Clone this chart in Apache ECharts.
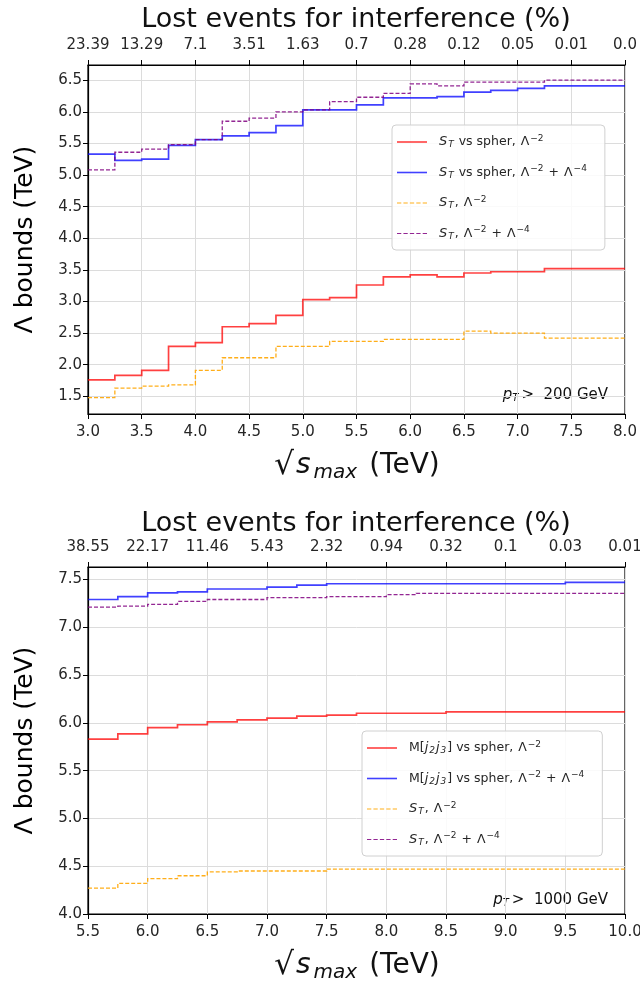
<!DOCTYPE html>
<html><head><meta charset="utf-8">
<script src="https://cdn.jsdelivr.net/npm/echarts@6/dist/echarts.min.js"></script>
<style>html,body{margin:0;padding:0;background:#fff}#c{width:640px;height:981px}</style>
</head><body><div id="c"></div>
<script>
// ---------- Data: top panel (pT > 200 GeV) ----------
var edges1 = [3.0,3.25,3.5,3.75,4.0,4.25,4.5,4.75,5.0,5.25,5.5,5.75,6.0,6.25,6.5,6.75,7.0,7.25,7.5,7.75,8.0];
var red1    = [1.76,1.83,1.91,2.29,2.35,2.60,2.65,2.78,3.03,3.06,3.26,3.39,3.42,3.39,3.45,3.47,3.47,3.52,3.52,3.52];
var blue1   = [5.33,5.23,5.25,5.47,5.56,5.62,5.67,5.78,6.03,6.03,6.11,6.22,6.22,6.24,6.31,6.34,6.37,6.41,6.41,6.41];
var orange1 = [1.48,1.63,1.66,1.68,1.91,2.11,2.11,2.29,2.29,2.37,2.37,2.40,2.40,2.40,2.53,2.50,2.50,2.42,2.42,2.42];
var purple1 = [5.08,5.36,5.41,5.48,5.56,5.85,5.90,6.00,6.03,6.16,6.23,6.29,6.44,6.41,6.47,6.47,6.47,6.50,6.50,6.50];
var xTicks1 = [3.0,3.5,4.0,4.5,5.0,5.5,6.0,6.5,7.0,7.5,8.0];
var topLabels1 = ['23.39','13.29','7.1','3.51','1.63','0.7','0.28','0.12','0.05','0.01','0.0'];
var yTicks1 = [1.5,2.0,2.5,3.0,3.5,4.0,4.5,5.0,5.5,6.0,6.5];

// ---------- Data: bottom panel (pT > 1000 GeV) ----------
var edges2 = [5.5,5.75,6.0,6.25,6.5,6.75,7.0,7.25,7.5,7.75,8.0,8.25,8.5,8.75,9.0,9.25,9.5,9.75,10.0];
var red2    = [5.83,5.885,5.95,5.98,6.01,6.03,6.05,6.07,6.08,6.10,6.10,6.10,6.115,6.115,6.115,6.115,6.115,6.115];
var blue2   = [7.29,7.32,7.36,7.37,7.40,7.40,7.42,7.44,7.455,7.455,7.455,7.455,7.455,7.455,7.455,7.455,7.47,7.47];
var orange2 = [4.27,4.32,4.37,4.40,4.44,4.45,4.45,4.45,4.47,4.47,4.47,4.47,4.47,4.47,4.47,4.47,4.47,4.47];
var purple2 = [7.21,7.22,7.24,7.27,7.29,7.29,7.31,7.31,7.32,7.32,7.34,7.355,7.355,7.355,7.355,7.355,7.355,7.355];
var xTicks2 = [5.5,6.0,6.5,7.0,7.5,8.0,8.5,9.0,9.5,10.0];
var topLabels2 = ['38.55','22.17','11.46','5.43','2.32','0.94','0.32','0.1','0.03','0.01'];
var yTicks2 = [4.0,4.5,5.0,5.5,6.0,6.5,7.0,7.5];

var legendText = {
  r1: '{i|S}{sub|T} vs spher, {m|Λ}{sup|−2}',
  b1: '{i|S}{sub|T} vs spher, {m|Λ}{sup|−2}{pl|+}{m|Λ}{sup|−4}',
  o1: '{i|S}{sub|T}, {m|Λ}{sup|−2}',
  p1: '{i|S}{sub|T}, {m|Λ}{sup|−2}{pl|+}{m|Λ}{sup|−4}',
  r2: 'M[{i|j}{sub|2}{i|j}{sub|3}] vs spher, {m|Λ}{sup|−2}',
  b2: 'M[{i|j}{sub|2}{i|j}{sub|3}] vs spher, {m|Λ}{sup|−2}{pl|+}{m|Λ}{sup|−4}',
  o2: '{i|S}{sub|T}, {m|Λ}{sup|−2}',
  p2: '{i|S}{sub|T}, {m|Λ}{sup|−2}{pl|+}{m|Λ}{sup|−4}'
};

// histogram-style steps: each bin value held from its left edge to its right edge
function stepData(edges, vals) {
  var d = [];
  for (var i = 0; i < vals.length; i++) {
    d.push([edges[i], vals[i]]);
    d.push([edges[i + 1], vals[i]]);
  }
  return d;
}

var FONT = 'DejaVu Sans';
var txtCol = '#262626';
var gridCol = '#dcdcdc';
var DASH_ICON = 'path://M0,0h4v1h-4zM6,0h4v1h-4zM12,0h4v1h-4zM18,0h4v1h-4zM24,0h4v1h-4z';

var rich = {
  i: {fontStyle: 'italic', fontSize: 13, fontFamily: FONT, color: txtCol, padding: [0, 1, 0, 0]},
  m: {fontSize: 12.5, fontFamily: FONT, color: txtCol, padding: [0, 1, 0, 1]},
  sub: {fontStyle: 'italic', fontSize: 9, fontFamily: FONT, color: txtCol, padding: [6, 1, 0, 0]},
  sup: {fontSize: 9, fontFamily: FONT, color: txtCol, padding: [0, 1, 7, 0]},
  pl: {fontSize: 12.5, fontFamily: FONT, color: txtCol, padding: [0, 4, 0, 4]}
};

function mkX(grid, min, max) {
  return {
    type: 'value', gridIndex: grid, min: min, max: max, interval: 0.5, position: 'bottom',
    axisLine: {show: true, onZero: false, lineStyle: {color: '#000', width: 1.2}},
    axisTick: {show: true, length: 5, lineStyle: {color: '#000'}},
    axisLabel: {color: txtCol, fontSize: 15, fontFamily: FONT, margin: 11,
      formatter: function (v) { return v.toFixed(1); }},
    splitLine: {show: true, lineStyle: {color: gridCol, width: 1}}
  };
}
function mkTop(grid, min, max, ticks, labels) {
  return {
    type: 'value', gridIndex: grid, min: min, max: max, interval: 0.5, position: 'top',
    axisLine: {show: true, onZero: false, lineStyle: {color: '#000', width: 1.2}},
    axisTick: {show: true, length: 5, lineStyle: {color: '#000'}},
    axisLabel: {color: txtCol, fontSize: 15, fontFamily: FONT, margin: 12,
      formatter: function (v) { var k = ticks.indexOf(Math.round(v * 100) / 100); return k >= 0 ? labels[k] : ''; }},
    splitLine: {show: false}
  };
}
function mkY(grid, min, max, ticks) {
  return {
    type: 'value', gridIndex: grid, min: min, max: max,
    axisLine: {show: true, onZero: false, lineStyle: {color: '#000', width: 1.2}},
    axisTick: {show: true, length: 5, lineStyle: {color: '#000'}, customValues: ticks},
    axisLabel: {color: txtCol, fontSize: 15, fontFamily: FONT, margin: 6, customValues: ticks,
      formatter: function (v) { return v.toFixed(1); }},
    splitLine: {show: true, lineStyle: {color: gridCol, width: 1}},
    name: 'Λ bounds (TeV)', nameLocation: 'middle', nameGap: 50, nameRotate: 90,
    nameTextStyle: {fontSize: 25, fontFamily: FONT, color: '#000'}
  };
}
// step curve drawn as one polyline through the axes' own coordinate mapping
function mkSeries(id, xi, yi, edges, vals, color, dashed, width, opacity) {
  var pts = stepData(edges, vals);
  return {
    name: id, type: 'custom', xAxisIndex: xi, yAxisIndex: yi, silent: true, clip: true,
    data: pts, encode: {x: 0, y: 1},
    itemStyle: {color: color, opacity: opacity},
    renderItem: function (params, api) {
      if (params.dataIndex !== 0) return null;
      var p = pts.map(function (d) { return api.coord(d); });
      return {
        type: 'polyline', silent: true,
        shape: {points: p},
        style: {stroke: color, lineWidth: width, fill: null, opacity: opacity,
          lineDash: dashed ? [4, 2] : null, lineJoin: 'miter', lineCap: 'butt'}
      };
    }
  };
}
function mkLegend(items, left, top) {
  return {
    data: items.map(function (it) { return {name: it[0], icon: it[1] ? DASH_ICON : 'rect'}; }),
    orient: 'vertical', left: left, top: top,
    itemWidth: 30, itemHeight: 1.6, itemGap: 15,
    padding: [9, 18, 9, 5],
    borderColor: '#d0d0d0', borderWidth: 1, borderRadius: 4, backgroundColor: 'rgba(255,255,255,0.85)',
    textStyle: {fontSize: 12.5, fontFamily: FONT, color: txtCol, padding: [0, 0, 0, 7], rich: rich},
    formatter: function (n) { return legendText[n]; },
    selectedMode: false
  };
}
function txt(x, y, text, size, extra) {
  var st = {text: text, x: x, y: y, fontSize: size, fontFamily: FONT, fill: '#111', align: 'center', verticalAlign: 'middle'};
  for (var k in extra) st[k] = extra[k];
  return {type: 'text', silent: true, style: st};
}
var nameRich = {
  sq: {fontSize: 31, fontFamily: FONT, color: '#111', padding: [0, 0, 0, 0]},
  s: {fontStyle: 'italic', fontSize: 28, fontFamily: FONT, color: '#111', padding: [0, 3, 0, 2]},
  sub: {fontStyle: 'italic', fontSize: 20, fontFamily: FONT, color: '#111', padding: [14, 12, 0, 0]},
  t: {fontSize: 28, fontFamily: FONT, color: '#111'}
};
var ptRich = {
  i: {fontStyle: 'italic', fontSize: 15, fontFamily: FONT, color: txtCol},
  sub: {fontStyle: 'italic', fontSize: 10, fontFamily: FONT, color: txtCol, padding: [7, 3, 0, 0]},
  t: {fontSize: 15, fontFamily: FONT, color: txtCol}
};

var chart = echarts.init(document.getElementById('c'), null, {renderer: 'canvas'});
chart.setOption({
  animation: false,
  backgroundColor: '#fff',
  grid: [
    {left: 88, top: 65, width: 537, height: 349, show: true, borderColor: '#000', borderWidth: 1.2, containLabel: false, outerBoundsMode: 'none'},
    {left: 88, top: 567, width: 537, height: 347, show: true, borderColor: '#000', borderWidth: 1.2, containLabel: false, outerBoundsMode: 'none'}
  ],
  xAxis: [
    mkX(0, 3.0, 8.0),
    mkTop(0, 3.0, 8.0, xTicks1, topLabels1),
    mkX(1, 5.5, 10.0),
    mkTop(1, 5.5, 10.0, xTicks2, topLabels2)
  ],
  yAxis: [
    mkY(0, 1.22, 6.74, yTicks1),
    mkY(1, 4.0, 7.63, yTicks2)
  ],
  legend: [
    mkLegend([['r1', false], ['b1', false], ['o1', true], ['p1', true]], 392, 125),
    mkLegend([['r2', false], ['b2', false], ['o2', true], ['p2', true]], 362, 731)
  ],
  series: [
    mkSeries('r1', 0, 0, edges1, red1, '#ff0000', false, 1.7, 0.75),
    mkSeries('b1', 0, 0, edges1, blue1, '#0000ff', false, 1.7, 0.75),
    mkSeries('o1', 0, 0, edges1, orange1, '#ffa500', true, 1.3, 0.9),
    mkSeries('p1', 0, 0, edges1, purple1, '#800080', true, 1.3, 0.85),
    mkSeries('r2', 2, 1, edges2, red2, '#ff0000', false, 1.7, 0.75),
    mkSeries('b2', 2, 1, edges2, blue2, '#0000ff', false, 1.7, 0.75),
    mkSeries('o2', 2, 1, edges2, orange2, '#ffa500', true, 1.3, 0.9),
    mkSeries('p2', 2, 1, edges2, purple2, '#800080', true, 1.3, 0.85)
  ],
  graphic: [
    txt(356, 20, 'Lost events for interference (%)', 27, {}),
    txt(356, 524, 'Lost events for interference (%)', 27, {}),
    txt(357, 466, '{sq|√}{s|s}{sub|max}{t|(TeV)}', 28, {rich: nameRich}),
    txt(357, 966, '{sq|√}{s|s}{sub|max}{t|(TeV)}', 28, {rich: nameRich}),
    txt(608, 395, '{i|p}{sub|T}{t|>  200 GeV}', 15, {rich: ptRich, align: 'right'}),
    txt(608, 900, '{i|p}{sub|T}{t|>  1000 GeV}', 15, {rich: ptRich, align: 'right'})
  ]
});
</script>
</body></html>
